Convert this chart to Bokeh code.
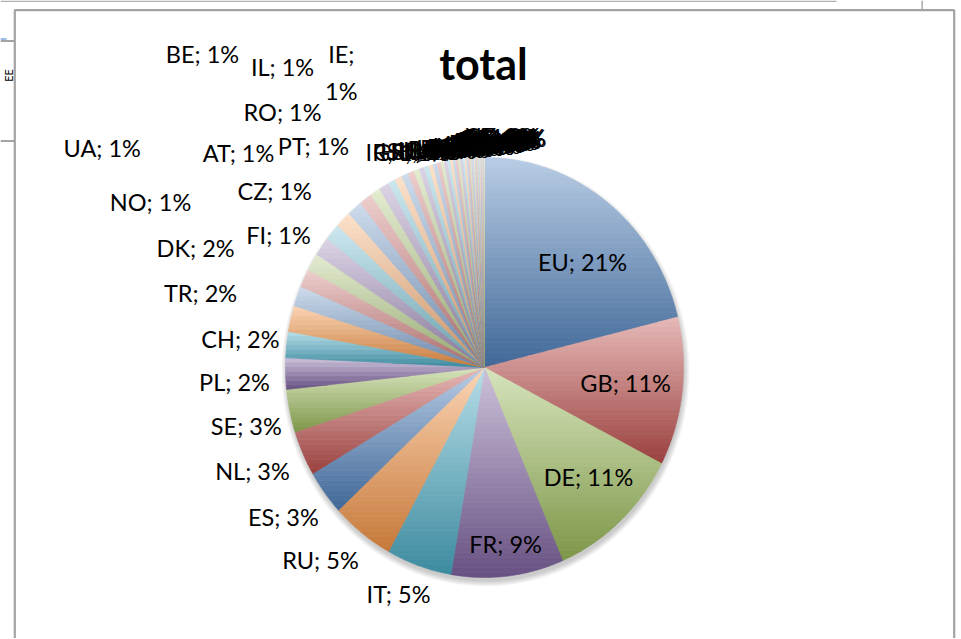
import math
import numpy as np
from bokeh.plotting import figure
from bokeh.models import Range1d, Label
from bokeh.embed import file_html
from bokeh.resources import INLINE
from bokeh.core.properties import value

# ---------------- data ----------------
title_text = "total"
countries = ["EU", "GB", "DE", "FR", "IT", "RU", "ES", "NL", "SE", "PL", "CH", "TR",
             "DK", "NO", "FI", "CZ", "UA", "AT", "RO", "PT", "IL", "BE", "IE",
             "IR", "GR", "HU", "SK", "SI", "IS", "LU", "BG", "HR", "LT",
             "EE", "LV", "RS", "CY", "US", "MT", "CA", "JP", "CN", "IN",
             "AU", "BR", "ZA", "KR", "MX", "AR", "TN", "MA", "EG", "BY",
             "MK", "BA", "ME", "AL", "MD", "GE", "AM", "SG", "NZ", "CL"]
shares = [21.1, 11.4, 11.0, 9.1, 5.3, 5.1, 3.45, 3.45, 3.3, 2.4, 2.0, 2.0,
          1.55, 1.4, 1.35, 1.45, 1.3, 1.28, 1.22, 1.03, 0.83, 0.83, 0.58,
          0.6, 0.55, 0.5, 0.45, 0.42, 0.38, 0.35, 0.33, 0.3, 0.28,
          0.26, 0.24, 0.22, 0.21, 0.2, 0.19, 0.18, 0.16, 0.15, 0.14,
          0.13, 0.12, 0.11, 0.1, 0.09, 0.09, 0.08, 0.07, 0.07, 0.06,
          0.06, 0.05, 0.05, 0.04, 0.04, 0.03, 0.03, 0.03, 0.02, 0.02]
side_text = "EE"

# ---------------- layout / style ----------------
W, H = 960, 638
SH = 639                          # data y = SH - screen y
CX, CY = 484, SH - 367            # pie centre (data units = pixels, y up)
RX, RY = 199, 210                 # pie radii (screenshot is slightly stretched)
# label placement for the named slices: distance (in radii) and turn from mid-angle (deg)
label_dist = [0.705, 0.713, 0.737, 0.845, 1.16, 1.234, 1.235, 1.265, 1.229, 1.258, 1.234, 1.47,
              1.56, 1.853, 1.213, 1.347, 2.187, 1.602, 1.586, 1.362, 1.753, 2.06, 1.578]
label_turn = [6.3, -0.6, -2.2, -0.5, 2.6, 3.9, 1.5, 1.3, -1.2, -1.4, 0.1, 0.4,
              1.6, -0.1, 1.3, 3.3, -11.6, -5.3, 0.9, -2.5, -2.1, -13.2, 0.6]
wrapped = {"IE"}
accents = [(79, 129, 189), (192, 80, 77), (155, 187, 89),
           (128, 100, 162), (75, 172, 198), (247, 150, 70)]
FONT = "Lato"
LABEL_SIZE = "23.5px"
BORDER = "#a3a3a3"


def mix(c, d, t):
    return tuple(c[k] + (d[k] - c[k]) * t for k in range(3))


def hexc(c):
    return "#%02x%02x%02x" % tuple(int(round(max(0, min(255, v)))) for v in c)


def clip(poly, y0, keep_above):
    out = []
    n = len(poly)
    for k in range(n):
        P = poly[k]
        Q = poly[(k + 1) % n]
        pin = (P[1] >= y0) if keep_above else (P[1] <= y0)
        qin = (Q[1] >= y0) if keep_above else (Q[1] <= y0)
        if pin:
            out.append(P)
        if pin != qin:
            t = (y0 - P[1]) / (Q[1] - P[1])
            out.append((P[0] + t * (Q[0] - P[0]), y0))
    return out


p = figure(width=W, height=H, x_range=Range1d(0, W), y_range=Range1d(SH - H, SH),
           output_backend="svg", toolbar_location=None, tools="",
           x_axis_location=None, y_axis_location=None, min_border=0)
p.grid.visible = False
p.outline_line_color = None
p.background_fill_color = "white"
p.border_fill_color = "white"

# chart-area border and bits of the neighbouring windows
p.line([14.3, 14.3, 953.7, 953.7], [0, SH - 9.7, SH - 9.7, 0], line_color=BORDER, line_width=2.2)
p.line([0, 836], [SH - 0.8, SH - 0.8], line_color="#b0b0b0", line_width=1.6)
p.line([921.7, 921.7], [SH, SH - 8.5], line_color="#b0b0b0", line_width=1.6)
p.line([0, 14], [SH - 40.5, SH - 40.5], line_color=BORDER, line_width=2)
p.line([0, 6], [SH - 38.5, SH - 38.5], line_color="#7aa7e0", line_width=1.5)
p.line([0, 14], [SH - 140.5, SH - 140.5], line_color=BORDER, line_width=2)
p.text(x=[8], y=[SH - 75], text=[side_text], angle=math.pi / 2, text_font=value(FONT),
       text_font_size="11px", text_align="center", text_baseline="middle", text_color="black")

# soft shadow
for k in range(6):
    p.ellipse(x=CX + 1, y=CY - 4, width=2 * RX + 2 * k, height=2 * RY + 2 * k,
              fill_color="black", fill_alpha=0.035, line_color=None)

vals = np.array(shares, dtype=float)
total = vals.sum()
ends = np.cumsum(vals) / total * 360.0
starts = np.concatenate([[0.0], ends[:-1]])

xs, ys, cols = [], [], []
for i in range(len(vals)):
    a0, a1 = starts[i], ends[i]
    nseg = max(2, int(math.ceil((a1 - a0) / 0.7)) + 1)
    th = np.radians(np.linspace(a0, a1, nseg))
    poly = [(CX, CY)] + [(CX + RX * math.sin(t), CY + RY * math.cos(t)) for t in th]
    base = accents[i % 6]
    if i >= 12:
        base = mix(base, (255, 255, 255), 0.3)
    top = mix(base, (255, 255, 255), 0.6)
    bot = mix(base, (0, 0, 0), 0.2)
    py = [q[1] for q in poly]
    ymin, ymax = min(py), max(py)
    nb = max(3, int(math.ceil((ymax - ymin) / 5.0)))
    h = (ymax - ymin) / nb
    for k in range(nb):
        lo = ymin + k * h - 0.01
        hi = ymin + (k + 1) * h + 0.01
        sub = clip(clip(poly, lo, True), hi, False)
        if len(sub) < 3:
            continue
        t = 1.0 - ((k + 0.5) * h) / (ymax - ymin)
        c = hexc(mix(top, bot, t))
        xs.append([q[0] for q in sub])
        ys.append([q[1] for q in sub])
        cols.append(c)

p.patches(xs, ys, fill_color=cols, line_color=cols, line_width=0.6)


def pct(v):
    return int(math.floor(v / total * 100 + 0.5))


lx, ly, lt = [], [], []
for i in range(len(label_dist)):
    mid = math.radians((starts[i] + ends[i]) / 2 + label_turn[i])
    d = label_dist[i]
    lx.append(CX + d * RX * math.sin(mid))
    ly.append(CY + d * RY * math.cos(mid))
    sep = ";\n" if countries[i] in wrapped else "; "
    lt.append(f"{countries[i]}{sep}{pct(vals[i])}%")
p.text(x=lx, y=ly, text=lt, text_font=value(FONT), text_font_size=LABEL_SIZE,
       text_align="center", text_baseline="middle", text_color="black",
       text_line_height=1.35)

# tail labels: piled up at the top, as in the original
tx, ty, tt = [], [], []
ntail = len(vals) - len(label_dist)
for j in range(ntail):
    i = len(label_dist) + j
    mid = math.radians((starts[i] + ends[i]) / 2)
    tx.append(CX + 1.15 * RX * math.sin(mid) - 20)
    ty.append(CY + RY * 1.025 + 0.42 * j)
    tt.append(f"{countries[i]}; {pct(vals[i])}%")
p.text(x=tx, y=ty, text=tt, text_font=value(FONT), text_font_size=LABEL_SIZE,
       text_align="left", text_baseline="middle", text_color="black")

p.add_layout(Label(x=483, y=SH - 63, text=title_text, text_font=FONT,
                   text_font_style="bold", text_font_size="43px",
                   text_align="center", text_baseline="middle", text_color="black"))

open("out.html", "w").write(file_html(p, INLINE))
